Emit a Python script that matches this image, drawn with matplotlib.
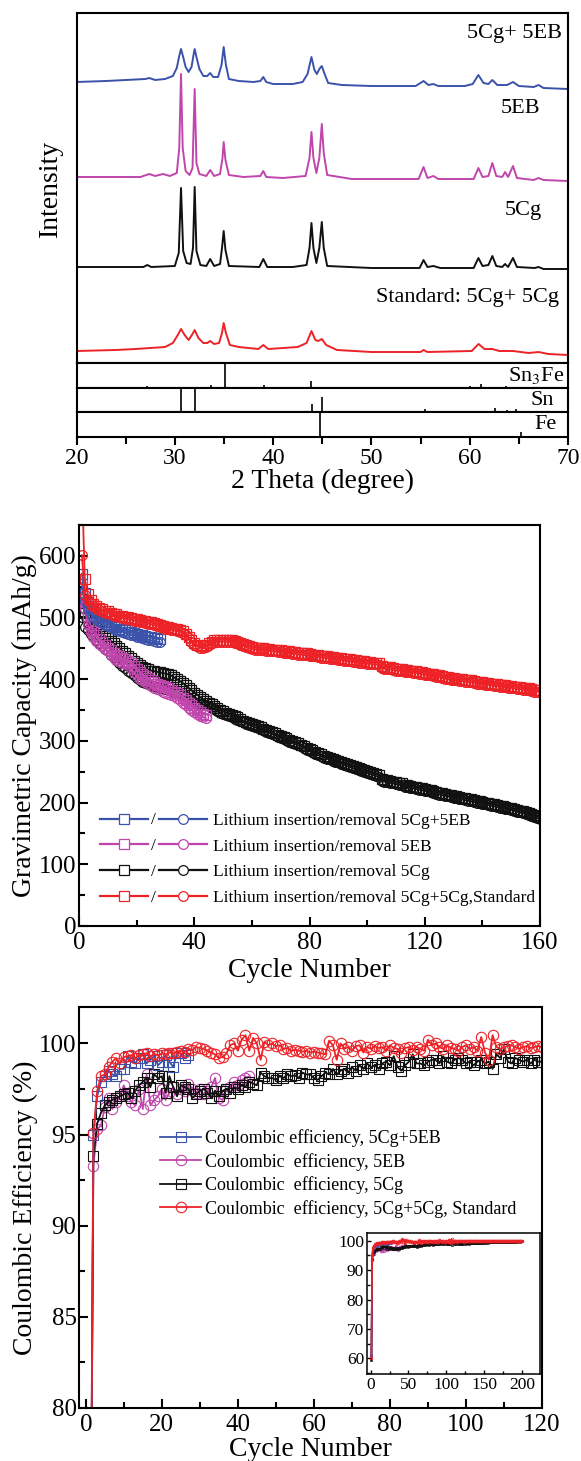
import numpy as np
import matplotlib
matplotlib.use("Agg")
import matplotlib.pyplot as plt
from matplotlib.ticker import MultipleLocator
from matplotlib.legend_handler import HandlerBase
from matplotlib.lines import Line2D
from matplotlib.text import Text

plt.rcParams['font.family'] = ['Liberation Serif', 'DejaVu Serif']
plt.rcParams['mathtext.fontset'] = 'stix'

BLUE = '#3B52AA'
MAGENTA = '#C045AC'
BLACK = '#111111'
RED = '#EC2227'

# ---------------- XRD patterns (2theta, intensity in arbitrary units) ----------------
XRD_5CG_5EB = [(20, 281), (23, 282), (25, 283), (27, 284), (27.4, 285), (28, 283), (29, 284),
               (29.8, 287), (30.2, 295), (30.45, 307), (30.63, 314), (30.85, 306), (31.1, 296),
               (31.4, 291), (31.7, 296), (31.9, 308), (32.02, 314), (32.2, 306), (32.5, 294),
               (32.9, 287), (33.3, 287), (33.6, 290), (33.9, 286), (34.4, 286), (34.75, 298),
               (34.97, 316), (35.2, 298), (35.5, 284), (36.5, 282), (38, 281), (38.7, 282),
               (39.0, 286), (39.3, 281), (40, 279), (42, 279), (43.0, 281), (43.5, 289),
               (43.9, 306), (44.2, 293), (44.45, 289), (44.7, 294), (44.95, 297), (45.2, 290),
               (45.6, 280), (47, 278), (50, 277), (54.5, 277), (55.3, 282), (55.8, 278),
               (56.3, 279), (56.8, 277), (59.5, 277), (60.3, 279), (60.88, 288), (61.4, 280),
               (61.9, 279), (62.3, 283), (62.8, 278), (63.8, 278), (64.4, 281), (65, 277),
               (66.5, 276), (67.0, 278), (67.5, 275), (70, 274)]
XRD_5EB = [(20, 186), (26.5, 186), (27.4, 189), (28, 187), (28.8, 189), (29.5, 187), (30.2, 190),
           (30.45, 215), (30.63, 289), (30.8, 215), (31.1, 192), (31.5, 188), (31.8, 195),
           (32.02, 274), (32.2, 200), (32.5, 189), (33.2, 187), (33.6, 193), (34.0, 187),
           (34.6, 189), (34.85, 205), (34.97, 221), (35.15, 203), (35.5, 188), (37, 186),
           (38.7, 187), (39.0, 192), (39.3, 186), (41, 185), (43.3, 187), (43.7, 205),
           (43.9, 231), (44.1, 205), (44.4, 190), (44.7, 205), (44.95, 239), (45.15, 210),
           (45.5, 188), (48, 184), (54.8, 184), (55.3, 196), (55.7, 185), (56.3, 187),
           (56.8, 184), (60.4, 184), (60.88, 195), (61.3, 186), (61.9, 187), (62.3, 200),
           (62.7, 187), (63.3, 186), (63.6, 191), (63.9, 186), (64.4, 197), (64.8, 185),
           (66.5, 183), (67.0, 185), (67.5, 183), (70, 182)]
XRD_5CG = [(20, 96), (26.8, 96), (27.2, 98), (27.6, 96), (30.0, 97), (30.4, 110), (30.63, 175),
           (30.85, 112), (31.2, 100), (31.6, 99), (31.85, 115), (32.02, 176), (32.2, 112),
           (32.6, 98), (33.2, 97), (33.6, 104), (34.0, 97), (34.6, 99), (34.8, 115),
           (34.97, 132), (35.15, 113), (35.5, 97), (38.6, 96), (39.0, 104), (39.4, 96),
           (42, 96), (43.4, 98), (43.7, 115), (43.9, 140), (44.1, 115), (44.4, 100),
           (44.7, 115), (44.95, 141), (45.15, 115), (45.5, 97), (50, 95), (54.9, 95),
           (55.3, 103), (55.7, 96), (56.3, 97), (57, 95), (60.4, 95), (60.88, 105), (61.3, 97),
           (61.9, 98), (62.3, 107), (62.7, 97), (63.3, 96), (63.6, 99), (63.9, 96), (64.4, 105),
           (64.8, 96), (66.6, 95), (67.0, 96), (67.5, 94), (70, 94)]
XRD_STANDARD = [(20, 12), (24, 13), (26, 14), (27.5, 15), (29, 16), (29.8, 20), (30.3, 28),
                (30.63, 34), (31.0, 28), (31.4, 23), (31.8, 29), (32.02, 33), (32.4, 25),
                (32.9, 20), (33.3, 20), (33.6, 22), (34.0, 19), (34.5, 20), (34.8, 30),
                (34.97, 40), (35.2, 30), (35.6, 18), (36.5, 16), (38.5, 14), (39.0, 18),
                (39.5, 14), (41, 15), (42.5, 16), (43.4, 20), (43.9, 32), (44.3, 23), (44.6, 22),
                (44.95, 24), (45.4, 18), (46.5, 13), (50, 11), (55, 11), (55.3, 13), (55.7, 11),
                (60.2, 12), (60.9, 19), (61.5, 14), (62.3, 14), (63, 12), (64.4, 12), (66, 10),
                (67.0, 11), (68, 9), (70, 8)]

# reference sticks
SN3FE_POS = [27.2, 33.7, 35.07, 39.04, 43.86, 56.2, 60.03, 61.1, 63.7]
SN3FE_H = [0.05, 0.12, 1.0, 0.12, 0.28, 0.04, 0.05, 0.15, 0.05]
SN_POS = [30.67, 32.03, 43.96, 44.96, 55.4, 62.6, 63.8, 64.66]
SN_H = [1.0, 0.95, 0.35, 0.62, 0.15, 0.18, 0.10, 0.15]
FE_POS = [44.73, 65.2]
FE_H = [1.0, 0.2]

# ---------------- Capacity (mAh/g) per cycle ----------------
CAP_BLUE_SQ = [571, 540, 525, 515, 508, 503, 499, 496, 493, 490, 488, 486, 484, 482, 480, 479,
               477, 476, 475, 473, 472, 471, 470, 469, 468, 467, 466, 465]
CAP_BLUE_CI = [549, 527, 515, 507, 501, 497, 494, 491, 488, 486, 484, 482, 480, 478, 477, 475,
               474, 472, 471, 469, 468, 466, 465, 464, 463, 462, 461, 460]
CAP_MAG_SQ = [555, 525, 502, 488, 478, 471, 465, 460, 455, 451, 447, 443, 440, 437, 435, 433,
              430, 426, 421, 416, 412, 408, 405, 402, 399, 396, 393, 391, 389, 387, 385, 383,
              380, 377, 374, 370, 366, 362, 358, 354, 350, 347, 344, 342]
CAP_MAG_CI = [530, 514, 490, 476, 468, 462, 457, 453, 449, 445, 440, 434, 431, 429, 427, 426,
              423, 418, 412, 406, 401, 398, 395, 392, 389, 386, 384, 382, 380, 378, 376, 374,
              372, 369, 366, 362, 358, 354, 350, 347, 344, 341, 339, 337]
CAP_BLACK_SQ = [530, 507, 500, 493, 488, 483, 478, 474, 470, 466,
                462, 458, 454, 450, 446, 442, 438, 434, 430, 426,
                423, 420, 418, 416, 414, 413, 412, 411, 410, 409,
                408, 406, 403, 400, 397, 394, 390, 386, 382, 378,
                375, 371, 368, 365, 362, 359, 356, 353, 350, 348,
                346, 344, 342, 340, 338, 335, 333, 331, 329, 327,
                325, 324, 322, 320, 318, 316, 314, 312, 310, 308,
                306, 304, 302, 300, 298, 296, 294, 292, 289, 287,
                285, 282, 280, 278, 276, 274, 273, 271, 269, 268,
                266, 264, 262, 261, 259, 257, 256, 254, 252, 251,
                249, 248, 246, 245, 238, 237, 236, 235, 234, 233,
                232, 231, 229, 228, 227, 226, 225, 224, 223, 222,
                221, 220, 218, 217, 216, 215, 214, 213, 212, 211,
                210, 209, 208, 207, 206, 205, 204, 203, 202, 201,
                200, 199, 198, 197, 196, 195, 194, 193, 192, 191,
                190, 188, 187, 186, 184, 183, 182, 180, 178, 176]
CAP_BLACK_CI = [500, 484, 479, 474, 469, 464, 459, 454, 449, 445,
                440, 436, 431, 427, 422, 418, 414, 410, 406, 402,
                399, 396, 394, 392, 390, 389, 388, 386, 385, 384,
                383, 382, 380, 378, 376, 374, 372, 369, 366, 363,
                361, 360, 359, 358, 356, 354, 351, 348, 346, 343,
                342, 340, 338, 336, 334, 332, 330, 328, 326, 324,
                322, 321, 319, 317, 315, 313, 311, 309, 307, 305,
                303, 301, 299, 297, 295, 293, 291, 289, 286, 284,
                282, 279, 277, 275, 273, 271, 270, 268, 266, 265,
                263, 261, 259, 258, 256, 254, 253, 251, 249, 248,
                246, 245, 243, 242, 235, 234, 233, 232, 231, 230,
                229, 228, 226, 225, 224, 223, 222, 221, 220, 219,
                218, 217, 215, 214, 213, 212, 211, 210, 209, 208,
                207, 206, 205, 204, 203, 202, 201, 200, 199, 198,
                197, 196, 195, 194, 193, 192, 191, 190, 189, 188,
                187, 185, 184, 183, 181, 180, 179, 177, 175, 173]
CAP_RED_SQ = [720, 563, 538, 528, 522, 518, 515, 513, 511, 510,
              508, 506, 505, 503, 502, 501, 500, 499, 498, 498,
              496, 495, 494, 493, 492, 491, 489, 488, 487, 485,
              484, 483, 482, 481, 480, 478, 474, 469, 463, 459,
              456, 454, 453, 455, 458, 461, 463, 464, 464, 464,
              464, 463, 463, 462, 461, 459, 457, 455, 453, 452,
              451, 451, 450, 450, 449, 449, 448, 448, 447, 447,
              446, 445, 445, 444, 444, 443, 443, 442, 442, 441,
              440, 440, 439, 438, 438, 437, 436, 436, 435, 434,
              434, 433, 432, 432, 431, 431, 430, 429, 429, 428,
              428, 427, 427, 426, 421, 420, 419, 419, 418, 417,
              417, 416, 415, 415, 414, 413, 413, 412, 411, 410,
              409, 409, 408, 407, 406, 405, 404, 403, 402, 402,
              401, 400, 400, 399, 398, 398, 397, 396, 396, 395,
              394, 394, 393, 392, 392, 391, 391, 390, 389, 389,
              388, 387, 387, 386, 385, 385, 384, 383, 383, 382]
CAP_RED_CI = [601, 536, 528, 523, 518, 515, 512, 510, 508, 507,
              505, 503, 502, 500, 499, 498, 497, 496, 495, 495,
              493, 492, 491, 490, 489, 488, 486, 485, 484, 482,
              481, 480, 479, 478, 477, 475, 471, 466, 460, 456,
              453, 451, 450, 452, 455, 458, 460, 461, 461, 461,
              461, 460, 460, 459, 458, 456, 454, 452, 450, 449,
              448, 448, 447, 447, 446, 446, 445, 445, 444, 444,
              443, 442, 442, 441, 441, 440, 440, 439, 439, 438,
              437, 437, 436, 435, 435, 434, 433, 433, 432, 431,
              431, 430, 429, 429, 428, 428, 427, 426, 426, 425,
              425, 424, 424, 423, 418, 417, 416, 416, 415, 414,
              414, 413, 412, 412, 411, 410, 410, 409, 408, 407,
              406, 406, 405, 404, 403, 402, 401, 400, 399, 399,
              398, 397, 397, 396, 395, 395, 394, 393, 393, 392,
              391, 391, 390, 389, 389, 388, 388, 387, 386, 386,
              385, 384, 384, 383, 382, 382, 381, 380, 380, 379]

# ---------------- Coulombic efficiency (%) per cycle ----------------
CE_BLUE = [61.0, 95.0, 97.1, 97.9, 98.2, 98.5, 98.3, 98.2, 98.6, 98.6,
           99.3, 99.0, 98.9, 99.2, 99.4, 98.9, 99.1, 99.3, 98.8, 99.0,
           99.35, 99.0, 98.7, 99.5, 99.45, 99.2, 99.35]
CE_MAG = [60.8, 93.3, 95.3, 95.5, 96.5, 97.0, 96.4, 96.8, 97.1, 97.7,
          97.1, 96.8, 96.6, 97.5, 96.4, 98.3, 96.6, 96.9, 97.1, 97.5,
          96.9, 97.3, 97.6, 97.2, 97.5, 97.4, 97.8, 97.5, 97.3, 97.5,
          97.2, 97.4, 97.6, 98.1, 97.0, 96.9, 97.5, 97.6, 97.9, 97.7,
          98.0, 98.1, 98.2]
CE_BLACK = [59.3, 93.8, 95.6, 96.2, 96.6, 96.8, 96.9, 97.0, 97.1, 97.2,
            97.3, 97.0, 97.4, 97.7, 97.9, 98.1, 97.6, 98.3, 98.1, 98.2,
            97.3, 98.2, 97.6, 97.1, 97.7, 97.6, 97.5, 97.0, 97.2, 97.4,
            97.5, 97.3, 97.0, 97.4, 97.1, 97.4, 97.5, 97.3, 97.6, 97.5,
            97.7, 97.6, 97.9, 97.8, 97.7, 98.4, 98.2, 98.1, 98.1, 98.0,
            98.2, 98.1, 98.3, 98.2, 98.25, 98.1, 98.4, 98.3, 98.3, 98.1,
            98.0, 98.2, 98.4, 98.3, 98.6, 98.3, 98.5, 98.6, 98.4, 98.7,
            98.5, 98.8, 98.6, 98.9, 98.7, 98.8, 98.6, 98.9, 99.0, 98.8,
            99.3, 98.7, 98.5, 98.8, 99.0, 99.4, 98.9, 98.9, 98.8, 99.0,
            99.1, 99.1, 98.9, 99.3, 99.0, 98.9, 99.1, 99.2, 99.1, 98.9,
            99.0, 98.8, 99.0, 99.1, 98.9, 99.0, 98.6, 99.4, 99.2, 99.7,
            99.0, 98.9, 99.2, 99.1, 99.0, 99.1, 98.9, 99.1, 99.0, 99.0,
            # cycles 121-200 (inset only)
            99.0, 99.1, 99.0, 99.1, 99.2, 99.0, 99.1, 99.2, 99.1, 99.0,
            99.2, 99.1, 99.2, 99.3, 99.1, 99.2, 99.3, 99.2, 99.1, 99.3,
            99.2, 99.3, 99.3, 99.2, 99.4, 99.3, 99.2, 99.3, 99.4, 99.3,
            99.4, 99.3, 99.4, 99.5, 99.3, 99.4, 99.5, 99.4, 99.4, 99.5,
            99.4, 99.5, 99.5, 99.4, 99.5, 99.6, 99.5, 99.5, 99.6, 99.5,
            99.6, 99.5, 99.6, 99.6, 99.5, 99.6, 99.7, 99.6, 99.6, 99.7,
            99.6, 99.7, 99.6, 99.7, 99.7, 99.6, 99.7, 99.8, 99.7, 99.7,
            99.8, 99.7, 99.8, 99.7, 99.8, 99.8, 99.7, 99.8, 99.8, 99.8]
CE_RED = [60.3, 95.1, 97.4, 98.2, 98.3, 98.7, 99.0, 99.2, 98.9, 99.25,
          99.3, 99.35, 99.2, 99.35, 99.4, 99.45, 99.3, 99.4, 99.35, 99.45,
          99.4, 99.5, 99.45, 99.55, 99.6, 99.55, 99.7, 99.65, 99.8, 99.75,
          99.7, 99.6, 99.5, 99.4, 99.2, 99.25, 99.45, 99.9, 100.0, 99.6,
          100.2, 100.45, 99.6, 100.3, 100.0, 99.1, 100.1, 99.9, 100.0, 99.85,
          99.9, 99.7, 99.75, 99.6, 99.65, 99.6, 99.55, 99.6, 99.5, 99.55,
          99.5, 99.45, 99.4, 100.15, 99.9, 99.1, 100.0, 99.7, 99.8, 99.6,
          99.85, 99.9, 99.5, 99.8, 99.7, 99.85, 99.75, 99.8, 99.6, 99.9,
          99.75, 99.7, 99.5, 99.75, 99.8, 99.65, 99.8, 99.7, 99.6, 100.2,
          99.9, 100.0, 99.8, 99.7, 99.9, 99.75, 99.7, 99.6, 99.8, 99.9,
          99.7, 99.8, 99.6, 100.35, 99.5, 99.1, 100.45, 99.8, 99.7, 99.8,
          99.85, 99.9, 99.8, 99.7, 99.8, 99.85, 99.75, 99.8, 99.85, 99.8,
          # cycles 121-200 (inset only)
          99.8, 99.9, 99.7, 99.85, 99.9, 99.8, 99.75, 99.9, 99.85, 99.8,
          99.9, 99.95, 99.8, 99.85, 99.9, 99.8, 99.9, 99.85, 99.9, 99.8,
          99.95, 99.9, 99.85, 99.9, 99.8, 99.9, 99.95, 99.85, 99.9, 99.9,
          99.8, 99.9, 99.95, 99.85, 99.9, 99.9, 99.85, 99.95, 99.9, 99.9,
          99.85, 99.9, 99.95, 99.9, 99.85, 99.9, 99.95, 99.9, 99.9, 99.85,
          99.9, 99.95, 99.9, 99.9, 99.85, 99.9, 99.95, 99.9, 99.9, 99.9,
          99.85, 99.95, 99.9, 99.9, 99.9, 99.85, 99.95, 99.9, 99.9, 99.9,
          99.85, 99.9, 99.95, 99.9, 99.9, 99.9, 99.85, 99.9, 99.95, 99.9]

CAP_LABELS = ['Lithium insertion/removal 5Cg+5EB', 'Lithium insertion/removal 5EB',
              'Lithium insertion/removal 5Cg', 'Lithium insertion/removal 5Cg+5Cg,Standard']
CE_LABELS = ['Coulombic efficiency, 5Cg+5EB', 'Coulombic  efficiency, 5EB',
             'Coulombic  efficiency, 5Cg', 'Coulombic  efficiency, 5Cg+5Cg, Standard']


class PairHandler(HandlerBase):
    """legend entry drawn as  -□- / -○-"""
    def create_artists(self, legend, orig_handle, xdescent, ydescent, width, height,
                       fontsize, trans):
        color = orig_handle[0].get_color()
        y = height / 2 - ydescent
        x0 = -xdescent
        seg = width * 0.45
        arts = []
        for start, mk in ((x0, 's'), (x0 + width - seg, 'o')):
            arts.append(Line2D([start, start + seg], [y, y], color=color, lw=1.6))
            arts.append(Line2D([start + seg / 2], [y], marker=mk, ms=7, mfc='white',
                               mec=color, mew=0.9, ls='none'))
        arts.append(Text(x0 + width * 0.5, y - 1, '/', ha='center', va='center',
                         fontsize=fontsize))
        for a in arts:
            a.set_transform(trans)
        return arts


def style_spines(ax, lw=1.5):
    for s in ax.spines.values():
        s.set_linewidth(lw)


def main():
    fig = plt.figure(figsize=(5.81, 14.61), dpi=100)

    # ================= panel 1: XRD =================
    left, width = 0.1317, 0.846
    ax_x = fig.add_axes([left, 0.75154, width, 0.23956])
    boxes = [fig.add_axes([left, b, width, 0.016883], sharex=ax_x)
             for b in (0.73466, 0.71777, 0.70089)]

    for data, col in ((XRD_5CG_5EB, BLUE), (XRD_5EB, MAGENTA),
                      (XRD_5CG, BLACK), (XRD_STANDARD, RED)):
        arr = np.array(data)
        ax_x.plot(arr[:, 0], arr[:, 1], color=col, lw=1.4)
    ax_x.set_xlim(20, 70)
    ax_x.set_ylim(0, 350)
    ax_x.set_yticks([])
    ax_x.tick_params(axis='x', which='both', bottom=False, labelbottom=False)
    ax_x.set_ylabel('Intensity', fontsize=20, labelpad=10)
    style_spines(ax_x)

    ax_x.text(69.4, 330, '5Cg+ 5EB', ha='right', va='center', fontsize=16)
    ax_x.text(67.2, 255, '5EB', ha='right', va='center', fontsize=16)
    ax_x.text(67.3, 153, '5Cg', ha='right', va='center', fontsize=16)
    ax_x.text(69.1, 66, 'Standard: 5Cg+ 5Cg', ha='right', va='center', fontsize=16)

    sticks = ((SN3FE_POS, SN3FE_H, 'Sn$_3$Fe', 69.6),
              (SN_POS, SN_H, 'Sn', 68.6),
              (FE_POS, FE_H, 'Fe', 68.8))
    for bx, (pos, h, name, tx) in zip(boxes, sticks):
        bx.vlines(pos, 0, h, color='black', lw=1.2)
        bx.set_ylim(0, 1)
        bx.set_yticks([])
        bx.text(tx, 0.5, name, ha='right', va='center', fontsize=16)
        style_spines(bx)
    for bx in boxes[:2]:
        bx.tick_params(axis='x', which='both', bottom=False, labelbottom=False)
    bx = boxes[-1]
    bx.xaxis.set_major_locator(MultipleLocator(10))
    bx.xaxis.set_minor_locator(MultipleLocator(5))
    bx.tick_params(axis='x', which='major', direction='out', length=6, width=1.5,
                   labelsize=17, pad=2)
    bx.tick_params(axis='x', which='minor', direction='out', length=5, width=1.5)
    bx.set_xlabel('2 Theta (degree)', fontsize=20, labelpad=0)

    # ================= panel 2: capacity =================
    ax2 = fig.add_axes([0.136, 0.3662, 0.7935, 0.2745])
    series = ((CAP_BLACK_CI, 'o', BLACK), (CAP_BLACK_SQ, 's', BLACK),
              (CAP_MAG_SQ, 's', MAGENTA), (CAP_MAG_CI, 'o', MAGENTA),
              (CAP_BLUE_SQ, 's', BLUE), (CAP_BLUE_CI, 'o', BLUE),
              (CAP_RED_SQ, 's', RED), (CAP_RED_CI, 'o', RED))
    for vals, mk, col in series:
        cyc = np.arange(1, len(vals) + 1)
        ax2.plot(cyc, vals, color=col, lw=1.3, marker=mk,
                 ms=7 if mk == 'o' else 6.5, mfc='none', mec=col, mew=0.9)
    ax2.set_xlim(0, 160)
    ax2.set_ylim(0, 650)
    ax2.xaxis.set_major_locator(MultipleLocator(40))
    ax2.xaxis.set_minor_locator(MultipleLocator(20))
    ax2.yaxis.set_major_locator(MultipleLocator(100))
    ax2.yaxis.set_minor_locator(MultipleLocator(50))
    ax2.tick_params(which='major', direction='in', length=6.5, width=1.5, labelsize=18)
    ax2.tick_params(which='minor', direction='in', length=4, width=1.5)
    ax2.tick_params(axis='x', pad=4)
    ax2.tick_params(axis='y', pad=2)
    ax2.set_xlabel('Cycle Number', fontsize=20, labelpad=3)
    ax2.set_ylabel('Gravimetric Capacity (mAh/g)', fontsize=20, labelpad=1)
    style_spines(ax2)

    pair_handles = [(Line2D([], [], color=c), Line2D([], [], color=c))
                    for c in (BLUE, MAGENTA, BLACK, RED)]
    ax2.legend(pair_handles, CAP_LABELS, handler_map={tuple: PairHandler()},
               loc='upper left', bbox_to_anchor=(0.045, 0.283), frameon=False,
               fontsize=12.5, handlelength=6.2, handletextpad=0.35, labelspacing=0.56,
               borderpad=0, borderaxespad=0)

    # ================= panel 3: coulombic efficiency =================
    ax3 = fig.add_axes([0.1365, 0.03628, 0.7964, 0.2745])
    ins = fig.add_axes([0.6315, 0.05955, 0.298, 0.0965])
    ce_series = ((CE_MAG, 'o', MAGENTA, CE_LABELS[1]), (CE_BLACK, 's', BLACK, CE_LABELS[2]),
                 (CE_BLUE, 's', BLUE, CE_LABELS[0]), (CE_RED, 'o', RED, CE_LABELS[3]))
    handles = {}
    for vals, mk, col, lab in ce_series:
        cyc = np.arange(1, len(vals) + 1)
        h, = ax3.plot(cyc, vals, color=col, lw=1.3, marker=mk,
                      ms=7.5 if mk == 'o' else 7, mfc='none', mec=col, mew=0.8)
        handles[lab] = h
        ins.plot(cyc, vals, color=col, lw=1.2, marker=mk, ms=2, mfc='none', mec=col, mew=0.5)
    ax3.set_xlim(-1.7, 120)
    ax3.set_ylim(80, 102)
    ax3.xaxis.set_major_locator(MultipleLocator(20))
    ax3.xaxis.set_minor_locator(MultipleLocator(10))
    ax3.yaxis.set_major_locator(MultipleLocator(5))
    ax3.yaxis.set_minor_locator(MultipleLocator(2.5))
    ax3.tick_params(which='major', direction='in', length=6.5, width=1.5, labelsize=18)
    ax3.tick_params(which='minor', direction='in', length=4, width=1.5)
    ax3.tick_params(axis='x', pad=4)
    ax3.tick_params(axis='y', pad=2)
    ax3.set_xlabel('Cycle Number', fontsize=20, labelpad=1)
    ax3.set_ylabel('Coulombic Efficiency (%)', fontsize=20, labelpad=1)
    style_spines(ax3)
    ax3.legend([handles[l] for l in CE_LABELS], CE_LABELS, loc='upper left',
               bbox_to_anchor=(0.174, 0.695), frameon=False, fontsize=13,
               handlelength=2.3, handletextpad=0.2, labelspacing=0.31,
               borderpad=0, borderaxespad=0)

    ins.set_xlim(-5, 224)
    ins.set_ylim(54.7, 102.6)
    ins.xaxis.set_major_locator(MultipleLocator(50))
    ins.xaxis.set_minor_locator(MultipleLocator(25))
    ins.yaxis.set_major_locator(MultipleLocator(10))
    ins.yaxis.set_minor_locator(MultipleLocator(5))
    ins.tick_params(which='major', direction='in', length=3, width=1, labelsize=12.5, pad=2)
    ins.tick_params(which='minor', direction='in', length=2, width=1)
    style_spines(ins, 1.1)

    fig.savefig('out.png', dpi=100)


if __name__ == "__main__":
    main()
